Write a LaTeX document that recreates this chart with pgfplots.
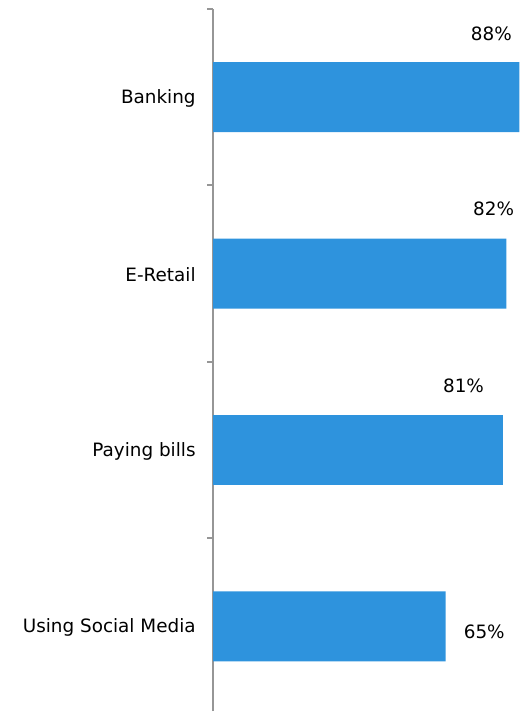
\documentclass[border=0pt]{standalone}
\usepackage{pgfplots}
\pgfplotsset{compat=1.18}
\usepackage{fontspec}
\setmainfont{DejaVu Sans}
\definecolor{barblue}{RGB}{46,147,221}
\definecolor{axgray}{RGB}{150,150,150}
\begin{document}
\begin{tikzpicture}
\begin{axis}[
  scale only axis,
  width=229.9pt, height=527.25pt,
  xbar, bar width=52.5pt,
  xmin=0, xmax=85.6,
  ymin=-0.48, ymax=3.5,
  axis x line=none,
  axis y line=left,
  axis line style={-, draw=axgray, line width=1.4pt},
  ytick={0,1,2,3},
  yticklabels={Using Social Media,Paying bills,E-Retail,Banking},
  minor ytick={-0.5,0.5,1.5,2.5,3.5},
  major tick length=0pt,
  minor tick length=4.5pt,
  tick align=outside,
  minor tick style={draw=axgray, line width=1.4pt},
  yticklabel style={font=\fontsize{13.8pt}{16pt}\selectfont, inner sep=0pt, xshift=-13pt, yshift=-1pt},
  clip=true,
]
\addplot[draw=none, fill=barblue] coordinates {(65,0) (81,1) (82,2) (88,3)};
\node[font=\fontsize{13.8pt}{16pt}\selectfont] at (axis cs:77.8,3.359) {88\%};
\node[font=\fontsize{13.8pt}{16pt}\selectfont] at (axis cs:78.4,2.368) {82\%};
\node[font=\fontsize{13.8pt}{16pt}\selectfont] at (axis cs:70.0,1.366) {81\%};
\node[font=\fontsize{13.8pt}{16pt}\selectfont] at (axis cs:75.8,-0.031) {65\%};
\end{axis}
\useasboundingbox ([xshift=-160.1pt]current axis.south west) rectangle ([yshift=6.75pt]current axis.north east);
\end{tikzpicture}
\end{document}
